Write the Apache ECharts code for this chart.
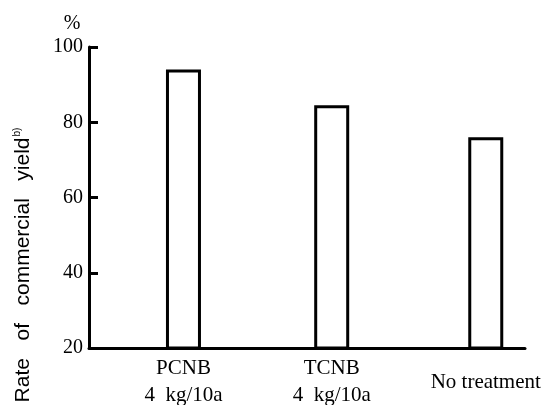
<!DOCTYPE html>
<html>
<head>
<meta charset="utf-8">
<script src="https://cdn.jsdelivr.net/npm/echarts@6/dist/echarts.min.js"></script>
<style>html,body{margin:0;padding:0;background:#fff}#c{width:544px;height:405px}</style>
</head>
<body>
<div id="c"></div>
<script>
var categories = ['PCNB\n4  kg/10a', 'TCNB\n4  kg/10a', 'No treatment'];
var categoryPos = [0.65, 1.67, 2.73];
var values = [94, 84.5, 76];
var yTicks = [20, 40, 60, 80, 100];

var chart = echarts.init(document.getElementById('c'));
var serif = '"Liberation Serif", "DejaVu Serif", serif';
var sans = '"Liberation Sans", Arial, sans-serif';
chart.setOption({
  animation: false,
  backgroundColor: '#fff',
  grid: { left: 89, right: 19, top: 47, bottom: 57, containLabel: false, outerBoundsMode: 'none' },
  xAxis: {
    type: 'value', min: 0, max: 3,
    axisLine: { show: true, lineStyle: { color: '#000', width: 3 } },
    axisTick: { show: false },
    splitLine: { show: false },
    axisLabel: {
      customValues: categoryPos,
      formatter: function (v) {
        for (var i = 0; i < categoryPos.length; i++) {
          if (Math.abs(categoryPos[i] - v) < 1e-6) return categories[i];
        }
        return '';
      },
      color: '#000', fontFamily: serif, fontSize: 21, lineHeight: 27,
      verticalAlign: 'middle', margin: 34
    }
  },
  yAxis: {
    type: 'value', min: 20, max: 100, interval: 20,
    axisLine: { show: true, lineStyle: { color: '#000', width: 3 } },
    axisTick: { show: true, inside: true, length: 9, lineStyle: { color: '#000', width: 3 } },
    splitLine: { show: false },
    axisLabel: {
      color: '#000', fontFamily: serif, fontSize: 20, margin: 6,
      formatter: function (v) { return yTicks.indexOf(v) >= 0 ? String(v) : ''; }
    }
  },
  graphic: [
    {
      type: 'text', x: 72, y: 24,
      style: { text: '%', fill: '#000', font: '20px ' + serif, align: 'center', verticalAlign: 'middle' }
    },
    {
      type: 'text', x: 23, y: 265, rotation: Math.PI / 2,
      style: {
        text: 'Rate   of   commercial   yield{s|b)}',
        fill: '#000', font: '21px ' + sans,
        align: 'center', verticalAlign: 'middle',
        rich: { s: { fontSize: 10, fontFamily: sans, verticalAlign: 'top', padding: [0, 0, 11, 1], fill: '#000' } }
      }
    }
  ],
  series: [{
    type: 'bar',
    data: values.map(function (v, i) { return [categoryPos[i], v]; }),
    barWidth: 35,
    itemStyle: { color: '#fff', borderColor: '#000', borderWidth: 3 }
  }]
});
</script>
</body>
</html>
